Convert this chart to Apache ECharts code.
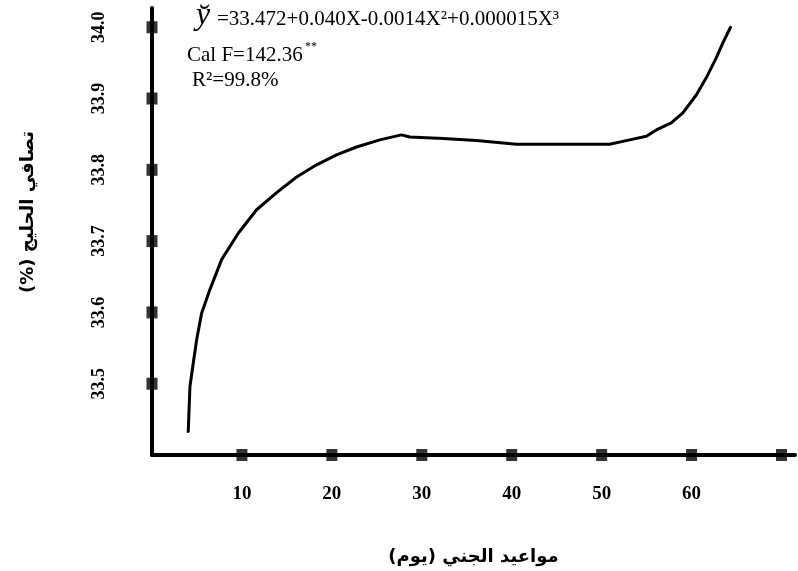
<!DOCTYPE html>
<html>
<head>
<meta charset="utf-8">
<script src="https://cdn.jsdelivr.net/npm/echarts@6/dist/echarts.min.js"></script>
<style>
html,body{margin:0;padding:0;background:#fff;}
#c{width:798px;height:571px;}
</style>
</head>
<body>
<div id="c"></div>
<script>
// Data
const curveX = [4.03,4.22,4.59,4.97,5.52,6.44,7.74,9.59,11.63,13.86,16.08,18.30,20.52,22.74,25.33,27.74,28.67,32.37,36.08,40.52,50.89,53.11,54.97,56.08,57.74,59.03,60.52,61.63,62.74,63.48,64.33];
const curveY = [33.433,33.496,33.529,33.562,33.599,33.632,33.674,33.711,33.744,33.768,33.790,33.807,33.821,33.832,33.842,33.849,33.846,33.844,33.841,33.836,33.836,33.842,33.847,33.856,33.866,33.880,33.905,33.929,33.957,33.978,34.000];
const xTicks = [10,20,30,40,50,60,70];
const xTickLabels = ['10','20','30','40','50','60'];
const yTicks = [33.5,33.6,33.7,33.8,33.9,34.0];
const yTickLabels = ['33.5','33.6','33.7','33.8','33.9','34.0'];
const xTitle = 'مواعيد الجني (يوم)\u200F';
const yTitle = 'تصافي الحليج (%)\u200F';

const X_MIN = 0, X_MAX = 71.5, Y_MIN = 33.4, Y_MAX = 34.027;

const chart = echarts.init(document.getElementById('c'));
const serif = '"Liberation Serif","Times New Roman",serif';

const lineData = curveX.map((x,i)=>[x,curveY[i]]);
const tickMarks = xTicks.map(x=>[x,Y_MIN]).concat(yTicks.map(y=>[X_MIN,y]));

chart.setOption({
  backgroundColor:'#fff',
  animation:false,
  grid:{left:152,right:2.5,top:8,bottom:113,containLabel:false},
  xAxis:{
    type:'value',min:X_MIN,max:X_MAX,interval:10,
    axisLine:{show:true,lineStyle:{color:'#000',width:4}},
    axisTick:{show:false},splitLine:{show:false},
    axisLabel:{
      margin:30,color:'#000',fontFamily:serif,fontWeight:'bold',fontSize:19,
      formatter:function(v){
        for(let i=0;i<xTickLabels.length;i++){ if(Math.abs(v-xTicks[i])<1e-6) return xTickLabels[i]; }
        return '';
      }
    },
    name:xTitle,nameLocation:'middle',nameGap:93,
    nameTextStyle:{color:'#000',fontFamily:'"DejaVu Sans",sans-serif',fontWeight:'bold',fontSize:18}
  },
  yAxis:{
    type:'value',min:Y_MIN,max:Y_MAX,interval:0.1,
    axisLine:{show:true,lineStyle:{color:'#000',width:4}},
    axisTick:{show:false},splitLine:{show:false},
    axisLabel:{
      rotate:90,margin:44,color:'#000',fontFamily:serif,fontWeight:'bold',fontSize:18,
      formatter:function(v){
        for(let i=0;i<yTicks.length;i++){ if(Math.abs(v-yTicks[i])<1e-6) return yTickLabels[i]; }
        return '';
      }
    }
  },
  graphic:[
    {type:'text',x:28,y:212,rotation:Math.PI/2,
      style:{text:yTitle,fill:'#000',font:'bold 18px "DejaVu Sans",sans-serif',align:'center',verticalAlign:'middle'}},
    {type:'text',x:196,y:32,
      style:{text:'y\u0306',fill:'#000',font:'italic 32px '+serif,align:'left',verticalAlign:'bottom'}},
    {type:'text',x:217,y:30,
      style:{text:'=33.472+0.040X-0.0014X\u00B2+0.000015X\u00B3',fill:'#000',font:'21px '+serif,align:'left',verticalAlign:'bottom'}},
    {type:'text',x:187,y:66,
      style:{text:'Cal F=142.36',fill:'#000',font:'21px '+serif,align:'left',verticalAlign:'bottom'}},
    {type:'text',x:305,y:53,
      style:{text:'**',fill:'#000',font:'12px '+serif,align:'left',verticalAlign:'bottom'}},
    {type:'text',x:192,y:91,
      style:{text:'R\u00B2=99.8%',fill:'#000',font:'21px '+serif,align:'left',verticalAlign:'bottom'}}
  ],
  series:[
    {type:'line',data:lineData,showSymbol:false,smooth:false,clip:false,
      lineStyle:{color:'#000',width:3,join:'round',cap:'round'},silent:true},
    {type:'scatter',data:tickMarks,symbol:'rect',symbolSize:[11,12],clip:false,
      itemStyle:{color:'#000'},silent:true}
  ]
});
</script>
</body>
</html>
